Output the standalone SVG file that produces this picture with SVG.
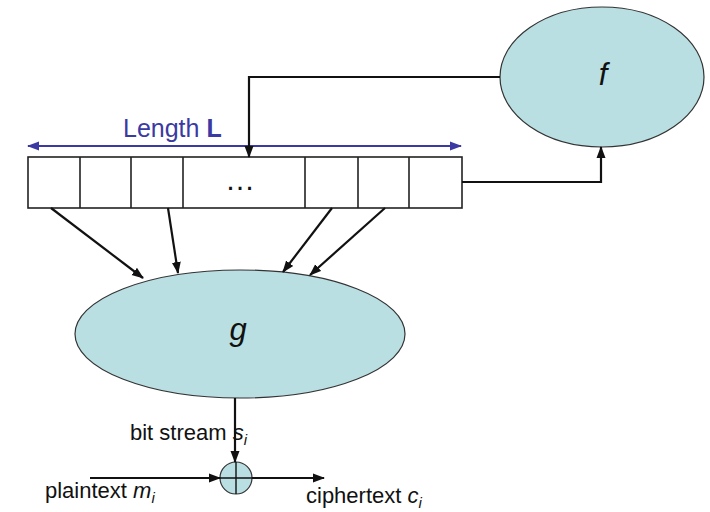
<svg xmlns="http://www.w3.org/2000/svg" width="710" height="512" viewBox="0 0 710 512">
<style>
.node{fill:#b9dfe3;stroke:#333;stroke-width:1.2}
.reg{fill:#fff;stroke:#222;stroke-width:1.6}
.edge{fill:none;stroke:#111;stroke-width:2.2}
.lbl{font-family:"Liberation Sans",Arial,sans-serif;fill:#111}
</style>
<defs>
<marker id="ah" markerWidth="12" markerHeight="10" refX="11" refY="5" orient="auto" markerUnits="userSpaceOnUse" viewBox="0 0 12 10">
<path d="M0,0.5 L12,5 L0,9.5 z" fill="#111"/>
</marker>
<marker id="bh" markerWidth="12" markerHeight="10" refX="11" refY="5" orient="auto-start-reverse" markerUnits="userSpaceOnUse" viewBox="0 0 12 10">
<path d="M0,0.5 L12,5 L0,9.5 z" fill="#3b3aa3"/>
</marker>
</defs>
<g id="f">
<ellipse class="node" cx="602" cy="77" rx="102" ry="70"/>
<text class="lbl" x="603" y="85" font-size="31" font-style="italic" text-anchor="middle">f</text>
</g>
<g id="register">
<rect class="reg" x="28" y="157" width="434" height="51"/>
<path class="reg" d="M80,157V208M131,157V208M183,157V208M305,157V208M358,157V208M409,157V208"/>
<text class="lbl" x="240" y="190" font-size="30" text-anchor="middle">…</text>
</g>
<g id="length">
<line x1="28" y1="146" x2="461" y2="146" stroke="#3b3aa3" stroke-width="2" marker-start="url(#bh)" marker-end="url(#bh)"/>
<text class="lbl" x="123" y="137" font-size="25" style="fill:#3b3aa3">Length <tspan font-weight="bold">L</tspan></text>
</g>
<g id="g">
<ellipse class="node" cx="240" cy="334" rx="165" ry="64"/>
<text class="lbl" x="238" y="340" font-size="31" font-style="italic" text-anchor="middle">g</text>
</g>
<g id="xor">
<circle class="node" cx="236" cy="478" r="16"/>
<path d="M220,478H252M236,462V494" stroke="#111" stroke-width="1.4"/>
</g>
<g id="connectors">
<path class="edge" d="M500,77H249V157" marker-end="url(#ah)"/>
<path class="edge" d="M462,182H601V147" marker-end="url(#ah)"/>
<line class="edge" x1="51" y1="208" x2="143" y2="278" marker-end="url(#ah)"/>
<line class="edge" x1="168" y1="208" x2="178" y2="273" marker-end="url(#ah)"/>
<line class="edge" x1="332" y1="208" x2="283" y2="272" marker-end="url(#ah)"/>
<line class="edge" x1="385" y1="208" x2="310" y2="275" marker-end="url(#ah)"/>
<line class="edge" x1="235" y1="398" x2="235" y2="462" marker-end="url(#ah)"/>
<line class="edge" x1="90" y1="478" x2="220" y2="478" marker-end="url(#ah)"/>
<line class="edge" x1="252" y1="478" x2="324" y2="478" marker-end="url(#ah)"/>
</g>
<g id="labels">
<text class="lbl" x="130" y="440" font-size="22">bit stream <tspan font-style="italic">s</tspan><tspan font-style="italic" font-size="15" dy="5">i</tspan></text>
<text class="lbl" x="45" y="498" font-size="22">plaintext <tspan font-style="italic">m</tspan><tspan font-style="italic" font-size="15" dy="5">i</tspan></text>
<text class="lbl" x="306" y="503" font-size="22">ciphertext <tspan font-style="italic">c</tspan><tspan font-style="italic" font-size="15" dy="5">i</tspan></text>
</g>
</svg>
